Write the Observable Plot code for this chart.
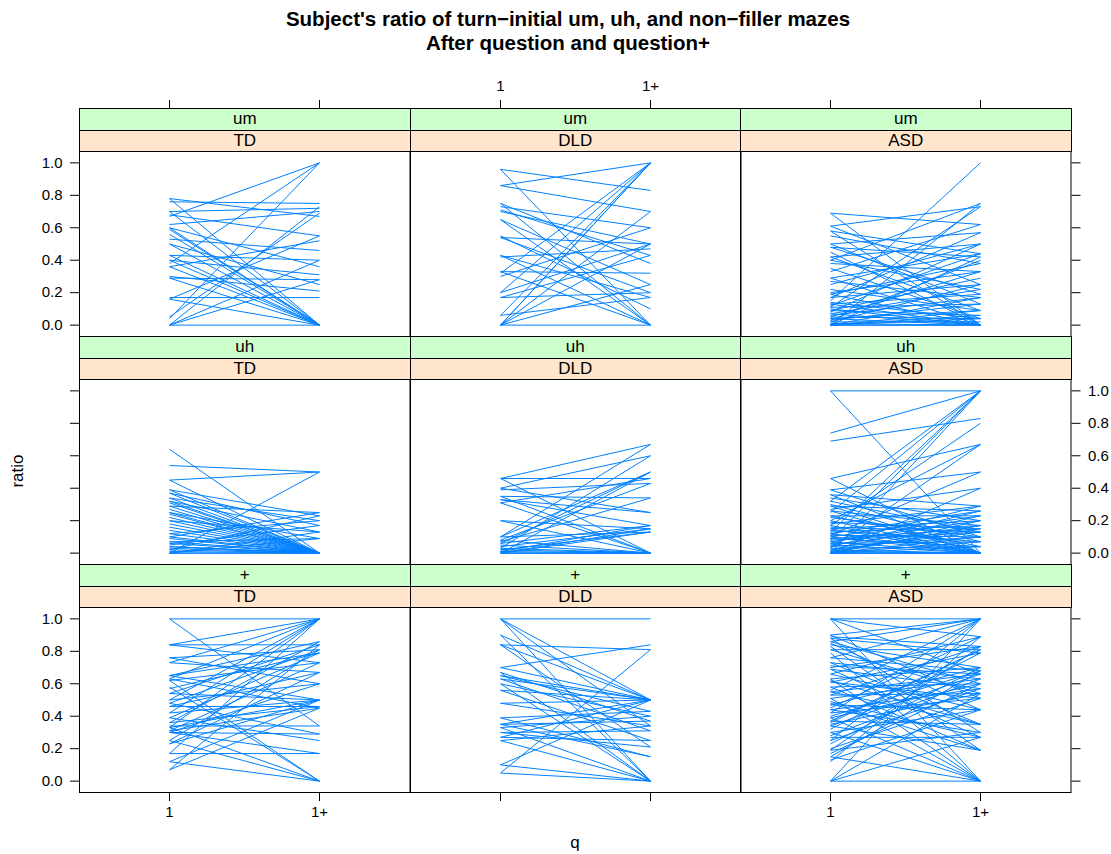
<!DOCTYPE html>
<html><head><meta charset="utf-8">
<script src="https://cdn.jsdelivr.net/npm/d3@7"></script>
<script src="https://cdn.jsdelivr.net/npm/@observablehq/plot@0.6"></script>
<style>
body{margin:0;background:#fff;font-family:"Liberation Sans",Arial,Helvetica,sans-serif;}
#root{position:relative;width:1111px;height:854px;overflow:hidden;background:#fff;}
.strip{position:absolute;box-sizing:border-box;border:1px solid #000;text-align:center;font-size:17px;color:#000;z-index:2;}
.lbl{position:absolute;color:#000;white-space:nowrap;}
</style></head><body><div id="root"></div><script>
// ---------- data ----------
const fillers = ["um", "uh", "+"];
const groups = ["TD", "DLD", "ASD"];
const qLevels = ["1", "1+"];
const yTicks = [0, 0.2, 0.4, 0.6, 0.8, 1.0];
const titleLines = ["Subject's ratio of turn\u2212initial um, uh, and non\u2212filler mazes", "After question and question+"];
const xLabel = "q";
const yLabel = "ratio";

// each pair: [ratio at q = 1, ratio at q = 1+]
const um_TD = [[0.78,0.0],[0.78,0.67],[0.76,0.75],[0.70,0.72],[0.70,0.0],[0.68,0.55],[0.67,1.0],[0.62,0.70],[0.60,0.0],[0.60,0.36],[0.59,0.0],[0.56,0.0],[0.53,0.46],[0.50,0.25],[0.50,0.0],[0.43,0.40],[0.43,0.0],[0.40,0.31],[0.40,0.0],[0.38,1.0],[0.36,0.52],[0.36,0.0],[0.30,0.21],[0.29,0.28],[0.29,0.0],[0.17,0.17],[0.16,0.55],[0.16,0.0],[0.05,0.69],[0.04,1.0],[0.0,0.0],[0.0,0.40],[0.0,0.28],[0.0,0.73]];
const um_DLD = [[0.96,0.83],[0.96,0.0],[0.86,1.0],[0.86,0.70],[0.75,0.38],[0.75,0.0],[0.73,0.60],[0.71,0.43],[0.65,0.0],[0.65,0.25],[0.54,0.50],[0.54,0.20],[0.43,0.17],[0.43,0.0],[0.33,0.0],[0.33,0.32],[0.32,1.0],[0.30,0.60],[0.20,1.0],[0.20,0.50],[0.17,0.43],[0.17,0.20],[0.06,1.0],[0.06,0.17],[0.0,1.0],[0.0,1.0],[0.0,0.50],[0.0,0.25],[0.0,0.0],[0.0,0.70],[0.42,0.47],[0.70,0.50],[0.55,0.10]];
const um_ASD = [[0.69,0.62],[0.69,0.0],[0.61,0.73],[0.61,0.25],[0.58,0.44],[0.58,0.0],[0.55,0.38],[0.50,0.57],[0.50,0.13],[0.48,0.42],[0.48,0.19],[0.45,0.0],[0.42,0.50],[0.42,0.09],[0.40,0.75],[0.40,0.22],[0.38,0.33],[0.35,0.04],[0.33,0.62],[0.29,0.44],[0.29,0.0],[0.27,0.17],[0.25,0.50],[0.22,0.09],[0.20,0.33],[0.19,0.38],[0.19,0.0],[0.17,0.25],[0.17,0.57],[0.15,1.0],[0.14,0.04],[0.13,0.19],[0.13,0.0],[0.12,0.44],[0.11,0.13],[0.11,0.73],[0.10,0.0],[0.09,0.29],[0.09,0.06],[0.08,0.50],[0.07,0.22],[0.07,0.0],[0.06,0.17],[0.05,0.04],[0.05,0.33],[0.04,0.09],[0.04,0.0],[0.03,0.13],[0.03,0.40],[0.02,0.02],[0.02,0.25],[0.01,0.0],[0.0,0.0],[0.0,0.04],[0.0,0.09],[0.0,0.75],[0.0,0.06],[0.0,0.42],[0.0,0.0],[0.0,0.17]];
const uh_TD = [[0.64,0.0],[0.54,0.50],[0.45,0.50],[0.45,0.0],[0.39,0.23],[0.39,0.0],[0.37,0.0],[0.37,0.17],[0.34,0.0],[0.34,0.20],[0.32,0.13],[0.32,0.0],[0.31,0.0],[0.29,0.25],[0.29,0.0],[0.27,0.0],[0.25,0.09],[0.25,0.0],[0.24,0.0],[0.22,0.0],[0.20,0.0],[0.20,0.13],[0.18,0.0],[0.16,0.0],[0.14,0.0],[0.12,0.20],[0.12,0.0],[0.10,0.0],[0.10,0.25],[0.09,0.0],[0.07,0.0],[0.07,0.09],[0.06,0.0],[0.05,0.17],[0.04,0.0],[0.04,0.0],[0.03,0.0],[0.02,0.0],[0.02,0.23],[0.01,0.0],[0.0,0.50],[0.0,0.0],[0.0,0.13],[0.0,0.09],[0.0,0.0]];
const uh_DLD = [[0.46,0.46],[0.46,0.0],[0.46,0.67],[0.40,0.60],[0.40,0.25],[0.39,0.43],[0.35,0.34],[0.35,0.0],[0.33,0.17],[0.33,0.25],[0.31,0.46],[0.31,0.0],[0.20,0.15],[0.20,0.0],[0.10,0.67],[0.10,0.50],[0.10,0.13],[0.08,0.43],[0.08,0.0],[0.07,0.34],[0.06,0.50],[0.06,0.17],[0.05,0.0],[0.04,0.15],[0.03,0.60],[0.03,0.0],[0.02,0.13],[0.02,0.0],[0.01,0.0],[0.01,0.17],[0.0,0.50],[0.0,0.0],[0.0,0.0],[0.0,0.15],[0.0,0.13],[0.0,0.0]];
const uh_ASD = [[1.0,1.0],[1.0,0.0],[0.74,1.0],[0.69,0.83],[0.46,0.67],[0.46,0.0],[0.39,0.50],[0.39,0.10],[0.36,0.29],[0.36,0.0],[0.34,0.20],[0.32,1.0],[0.32,0.13],[0.30,0.07],[0.29,0.26],[0.29,0.0],[0.27,0.40],[0.26,0.17],[0.26,0.0],[0.25,1.0],[0.23,0.23],[0.23,0.04],[0.22,0.10],[0.20,0.67],[0.20,0.0],[0.19,0.15],[0.18,0.29],[0.17,0.0],[0.17,0.80],[0.16,0.13],[0.15,0.20],[0.15,0.0],[0.14,0.07],[0.13,1.0],[0.13,0.17],[0.12,0.26],[0.12,0.0],[0.11,0.10],[0.11,0.50],[0.10,0.23],[0.10,0.0],[0.09,0.04],[0.09,0.15],[0.08,1.0],[0.08,0.13],[0.07,0.0],[0.07,0.20],[0.06,0.07],[0.06,0.29],[0.05,0.17],[0.05,0.0],[0.04,0.10],[0.04,0.26],[0.03,0.04],[0.03,0.67],[0.02,0.0],[0.02,0.13],[0.02,0.23],[0.01,0.15],[0.01,0.0],[0.0,1.0],[0.0,0.0],[0.0,0.20],[0.0,0.07],[0.0,0.40],[0.0,0.0],[0.0,0.17],[0.0,0.10],[0.0,0.04],[0.0,0.0]];
const plus_TD = [[1.0,1.0],[1.0,0.34],[0.84,1.0],[0.84,0.73],[0.84,0.84],[0.76,0.81],[0.76,0.60],[0.73,1.0],[0.73,0.67],[0.65,0.86],[0.65,0.50],[0.65,0.79],[0.63,1.0],[0.63,0.45],[0.62,0.73],[0.62,0.0],[0.54,0.84],[0.54,0.50],[0.50,1.0],[0.50,0.60],[0.48,0.81],[0.48,0.29],[0.46,0.67],[0.46,0.46],[0.42,1.0],[0.42,0.50],[0.39,0.79],[0.39,0.25],[0.36,0.86],[0.36,0.46],[0.33,1.0],[0.33,0.50],[0.33,0.0],[0.31,0.73],[0.31,0.45],[0.30,0.60],[0.30,0.17],[0.30,0.29],[0.25,0.81],[0.25,0.0],[0.23,0.50],[0.23,0.67],[0.17,0.17],[0.17,1.0],[0.12,0.50],[0.12,0.0],[0.07,0.45],[0.07,0.84],[0.34,0.34],[0.57,0.79],[0.58,0.0]];
const plus_DLD = [[1.0,1.0],[1.0,0.0],[1.0,0.50],[1.0,0.34],[0.90,0.0],[0.90,0.50],[0.84,0.81],[0.84,0.50],[0.84,0.21],[0.70,0.50],[0.70,0.84],[0.67,0.37],[0.67,0.0],[0.65,0.50],[0.65,0.43],[0.63,0.31],[0.63,0.50],[0.60,0.40],[0.60,0.0],[0.56,0.50],[0.56,0.25],[0.48,0.50],[0.48,0.34],[0.39,0.43],[0.39,0.15],[0.35,0.37],[0.35,0.50],[0.33,0.0],[0.33,0.40],[0.30,0.31],[0.30,0.21],[0.27,0.50],[0.27,0.25],[0.25,0.34],[0.25,0.0],[0.10,0.50],[0.10,0.0],[0.05,0.81],[0.05,0.0],[0.35,0.15]];
const plus_ASD = [[1.0,1.0],[1.0,0.89],[1.0,0.0],[1.0,0.66],[0.90,1.0],[0.90,0.51],[0.89,0.83],[0.88,0.30],[0.88,0.79],[0.86,0.60],[0.86,1.0],[0.85,0.44],[0.84,0.70],[0.83,0.19],[0.81,0.81],[0.81,0.54],[0.79,0.0],[0.76,0.68],[0.76,1.0],[0.73,0.35],[0.73,0.63],[0.70,0.83],[0.69,0.57],[0.69,0.27],[0.66,0.89],[0.66,0.44],[0.63,0.70],[0.63,0.0],[0.61,0.51],[0.61,0.79],[0.58,0.60],[0.58,0.19],[0.56,1.0],[0.55,0.66],[0.55,0.35],[0.53,0.54],[0.53,0.83],[0.51,0.0],[0.51,0.63],[0.49,0.27],[0.47,0.70],[0.47,0.44],[0.45,0.89],[0.44,0.57],[0.44,0.30],[0.42,1.0],[0.42,0.51],[0.40,0.68],[0.39,0.0],[0.39,0.60],[0.37,0.81],[0.37,0.35],[0.35,0.54],[0.34,0.19],[0.34,0.66],[0.32,0.79],[0.30,0.44],[0.30,0.0],[0.28,0.63],[0.27,0.27],[0.25,0.57],[0.25,1.0],[0.23,0.70],[0.20,0.51],[0.19,0.30],[0.19,0.83],[0.17,0.60],[0.15,0.0],[0.15,0.68],[0.13,0.44],[0.12,0.89],[0.0,1.0],[0.0,0.0],[0.0,0.54],[0.0,0.27],[0.62,0.35],[0.71,0.66],[0.48,0.19],[0.36,0.81]];

const panelData = [[um_TD, um_DLD, um_ASD], [uh_TD, uh_DLD, uh_ASD], [plus_TD, plus_DLD, plus_ASD]];

// ---------- layout ----------
const root = document.getElementById("root");
const colLeft = [79, 409.5, 740];
const panelW = 330.5;
const rowTop = [108, 336, 564];
const stripH = 21.5;
const rowH = 228;
const mL = 70, mR = 70, mT = 40, mB = 40;
const blank = () => "";
const fmtY = d3.format(".1f");
const fontFam = "'Liberation Sans', Arial, Helvetica, sans-serif";
const tickFont = 15;

for (let r = 0; r < 3; r++) {
  for (let c = 0; c < 3; c++) {
    const marks = [
      Plot.link(panelData[r][c], {
        x1: () => qLevels[0], y1: d => d[0],
        x2: () => qLevels[1], y2: d => d[1],
        stroke: "#0080ff", strokeWidth: 1
      }),
      Plot.frame({stroke: "#000"})
    ];
    if (r === 0) marks.push(Plot.axisX({anchor: "top", tickSize: 9, tickPadding: 9, fontSize: tickFont, tickFormat: c === 1 ? (d => d) : blank}));
    if (r === 2) marks.push(Plot.axisX({anchor: "bottom", tickSize: 9, tickPadding: 5, fontSize: tickFont, tickFormat: c !== 1 ? (d => d) : blank}));
    if (c === 0) marks.push(Plot.axisY({anchor: "left", ticks: yTicks, tickSize: 9, tickPadding: 8, fontSize: tickFont, tickFormat: r !== 1 ? fmtY : blank}));
    if (c === 2) marks.push(Plot.axisY({anchor: "right", ticks: yTicks, tickSize: 9, tickPadding: 8, fontSize: tickFont, tickFormat: r === 1 ? fmtY : blank}));
    const svg = Plot.plot({
      width: panelW + mL + mR,
      height: rowH + mT + mB,
      marginLeft: mL, marginRight: mR, marginTop: mT, marginBottom: mB,
      x: {type: "point", domain: qLevels, padding: 0.6, axis: null},
      y: {domain: [-0.07, 1.07], range: [mT + rowH, mT + 2 * stripH], axis: null},
      style: {background: "transparent", fontFamily: fontFam, fontSize: tickFont + "px", color: "#000", overflow: "visible"},
      marks
    });
    svg.style.position = "absolute";
    svg.style.left = (colLeft[c] - mL) + "px";
    svg.style.top = (rowTop[r] - mT) + "px";
    svg.style.maxWidth = "none";
    root.append(svg);

    // strips
    const s1 = document.createElement("div");
    s1.className = "strip";
    Object.assign(s1.style, {left: colLeft[c] + "px", top: rowTop[r] + "px", width: (panelW + 1) + "px", height: (stripH + 1) + "px", lineHeight: (stripH - 1) + "px", background: "#ccffcc"});
    s1.textContent = fillers[r];
    root.append(s1);
    const s2 = document.createElement("div");
    s2.className = "strip";
    Object.assign(s2.style, {left: colLeft[c] + "px", top: (rowTop[r] + stripH) + "px", width: (panelW + 1) + "px", height: (stripH + 1) + "px", lineHeight: (stripH - 1) + "px", background: "#ffe5cc"});
    s2.textContent = groups[c];
    root.append(s2);
  }
}

// titles and axis labels
function label(text, css) {
  const d = document.createElement("div");
  d.className = "lbl";
  d.textContent = text;
  Object.assign(d.style, css);
  root.append(d);
  return d;
}
label(titleLines[0], {left: "0px", width: "1136px", top: "7px", textAlign: "center", fontWeight: "bold", fontSize: "20.5px"});
label(titleLines[1], {left: "0px", width: "1136px", top: "31px", textAlign: "center", fontWeight: "bold", fontSize: "20.5px"});
label(xLabel, {left: "525px", width: "100px", top: "833px", textAlign: "center", fontSize: "17px"});
label(yLabel, {left: "-32px", width: "100px", top: "461px", textAlign: "center", fontSize: "17px", transform: "rotate(-90deg)"});
</script></body></html>
